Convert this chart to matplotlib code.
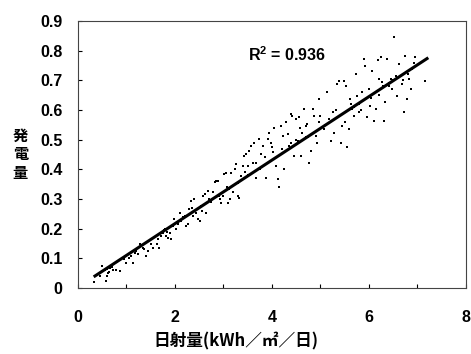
import numpy as np
import matplotlib.pyplot as plt
from matplotlib.ticker import MultipleLocator

# daily insolation (kWh/m2/day) vs generated power
insolation = [0.34, 0.49, 0.52, 0.58, 0.59, 0.66, 0.73, 0.79, 0.86, 0.95, 0.99, 1.10, 1.14, 1.17,
              1.24, 1.27, 1.34, 1.41, 1.45, 1.51, 1.55, 1.62, 1.65, 1.68, 1.75, 1.79, 1.82, 1.86,
              1.89, 1.92, 1.96, 1.99, 2.03, 2.10, 2.13, 2.20, 2.23, 2.27, 2.30, 2.34, 2.37, 2.40,
              2.44, 2.47, 2.51, 2.54, 2.58, 2.61, 2.64, 2.68, 2.71, 2.78, 2.82, 2.85, 2.88, 2.92,
              2.95, 2.99, 3.02, 3.05, 3.09, 3.12, 3.16, 3.19, 3.23, 3.26, 3.30, 3.33, 3.36, 3.40,
              3.43, 3.47, 3.50, 3.53, 3.57, 3.64, 3.67, 3.68, 3.74, 3.77, 3.81, 3.88, 3.91, 3.95,
              3.98, 4.01, 4.05, 4.08, 4.12, 4.15, 4.18, 4.22, 4.25, 4.29, 4.36, 4.39, 4.42, 4.46,
              4.49, 4.53, 4.56, 4.60, 4.63, 4.67, 4.70, 4.73, 4.77, 4.80, 4.84, 4.86, 4.90, 4.94,
              4.97, 5.00, 5.08, 5.14, 5.21, 5.25, 5.28, 5.35, 5.38, 5.42, 5.45, 5.48, 5.52, 5.55,
              5.59, 5.62, 5.66, 5.69, 5.73, 5.76, 5.79, 5.86, 5.90, 5.93, 5.97, 6.00, 6.03, 6.07,
              6.10, 6.14, 6.18, 6.21, 6.25, 6.27, 6.31, 6.34, 6.38, 6.41, 6.45, 6.48, 6.51, 6.55,
              6.58, 6.62, 6.68, 6.72, 6.75, 6.79, 6.82, 6.86, 6.89, 6.96, 7.16,
              0.55, 0.60, 0.62, 0.70, 1.20, 1.30, 1.78, 1.80, 1.83, 2.50, 2.90, 3.30, 3.50, 3.75,
              4.40, 4.50, 4.70, 4.90, 5.10, 5.60, 5.70, 5.80, 6.30, 6.50, 6.80,
              0.45, 0.64, 1.05, 1.37, 1.72, 2.06, 2.16, 2.36, 2.56, 2.74, 3.08, 3.14, 3.45, 3.62,
              3.85, 4.02, 4.20, 4.33, 4.58, 4.75, 4.98, 5.18, 5.32, 5.50, 5.64, 5.83, 6.05, 6.20,
              6.42, 6.70, 6.93]
power = [0.020, 0.074, 0.057, 0.024, 0.040, 0.069, 0.060, 0.060, 0.057, 0.097, 0.085, 0.108, 0.085, 0.119,
         0.114, 0.147, 0.136, 0.108, 0.125, 0.147, 0.136, 0.147, 0.164, 0.136, 0.187, 0.198, 0.175, 0.170,
         0.187, 0.164, 0.209, 0.232, 0.198, 0.254, 0.226, 0.243, 0.209, 0.215, 0.265, 0.294, 0.243, 0.300,
         0.254, 0.232, 0.226, 0.277, 0.311, 0.316, 0.254, 0.327, 0.300, 0.322, 0.356, 0.361, 0.361, 0.300,
         0.288, 0.311, 0.384, 0.389, 0.288, 0.333, 0.389, 0.322, 0.400, 0.417, 0.311, 0.305, 0.378, 0.411,
         0.445, 0.451, 0.411, 0.462, 0.479, 0.490, 0.423, 0.372, 0.501, 0.451, 0.479, 0.372, 0.501, 0.524,
         0.490, 0.474, 0.541, 0.411, 0.367, 0.339, 0.546, 0.513, 0.400, 0.558, 0.479, 0.586, 0.580, 0.445,
         0.569, 0.496, 0.575, 0.445, 0.524, 0.603, 0.546, 0.552, 0.423, 0.462, 0.603, 0.580, 0.513, 0.490,
         0.637, 0.580, 0.535, 0.659, 0.496, 0.592, 0.524, 0.687, 0.699, 0.490, 0.546, 0.699, 0.682, 0.474,
         0.535, 0.637, 0.603, 0.580, 0.721, 0.648, 0.592, 0.659, 0.772, 0.749, 0.575, 0.671, 0.614, 0.732,
         0.563, 0.603, 0.767, 0.704, 0.777, 0.693, 0.563, 0.626, 0.772, 0.682, 0.704, 0.671, 0.845, 0.716,
         0.648, 0.755, 0.687, 0.592, 0.783, 0.637, 0.704, 0.671, 0.738, 0.777, 0.699,
         0.060, 0.065, 0.050, 0.070, 0.125, 0.140, 0.195, 0.200, 0.190, 0.270, 0.310, 0.355, 0.380, 0.400,
         0.490, 0.500, 0.510, 0.530, 0.550, 0.600, 0.610, 0.620, 0.680, 0.700, 0.720,
         0.040, 0.055, 0.100, 0.130, 0.175, 0.215, 0.240, 0.270, 0.260, 0.290, 0.340, 0.300, 0.390, 0.420,
         0.440, 0.460, 0.470, 0.520, 0.540, 0.510, 0.560, 0.570, 0.600, 0.560, 0.620, 0.600, 0.640, 0.650,
         0.690, 0.700, 0.760]

# regression line
fit_slope = 0.107
fit_intercept = 0.003
fit_range = [0.35, 7.2]
r2_text = r'R$^{\mathrm{2}}$ = 0.936'

plt.rcParams['mathtext.fontset'] = 'custom'
plt.rcParams['mathtext.rm'] = 'Liberation Sans:bold'
plt.rcParams['mathtext.it'] = 'Liberation Sans:bold'

fig = plt.figure(figsize=(4.71, 3.54), dpi=100)
ax = fig.add_axes([0.1656, 0.1864, 0.8234, 0.7543])

ax.scatter(insolation, power, s=3, marker='s', color='black', linewidths=0)
xf = np.array(fit_range)
ax.plot(xf, fit_slope * xf + fit_intercept, color='black', lw=2.2)

ax.set_xlim(0, 8)
ax.set_ylim(0, 0.9)
ax.xaxis.set_minor_locator(MultipleLocator(1))
ax.tick_params(which='both', direction='in', length=3, width=0.8, top=False, right=False)
ax.tick_params(axis='x', pad=16)
ax.tick_params(axis='y', pad=11)
for s in ax.spines.values():
    s.set_linewidth(0.8)
    s.set_color('#444444')

num_font = dict(family='Liberation Sans', weight='bold', size=11.5)
ax.set_xticks([0, 2, 4, 6, 8])
ax.set_xticklabels(['0', '2', '4', '6', '8'], **num_font)
yt = [0, 0.1, 0.2, 0.3, 0.4, 0.5, 0.6, 0.7, 0.8, 0.9]
ax.set_yticks(yt)
ax.set_yticklabels(['0' if v == 0 else f'{v:.1f}' for v in yt], **num_font)

ax.text(3.5, 0.785, r2_text, ha='left', va='center', **num_font)

cjk = ['Noto Sans CJK JP', 'DejaVu Sans']
fig.text(0.5, 0.034, '日射量(kWh／㎡／日)', ha='center', va='center',
         family=cjk, weight='bold', size=12)
fig.text(0.043, 0.565, '発\n電\n量', ha='center', va='center',
         family=cjk, weight='bold', size=11, linespacing=1.2)

fig.savefig('out.png', dpi=100)
